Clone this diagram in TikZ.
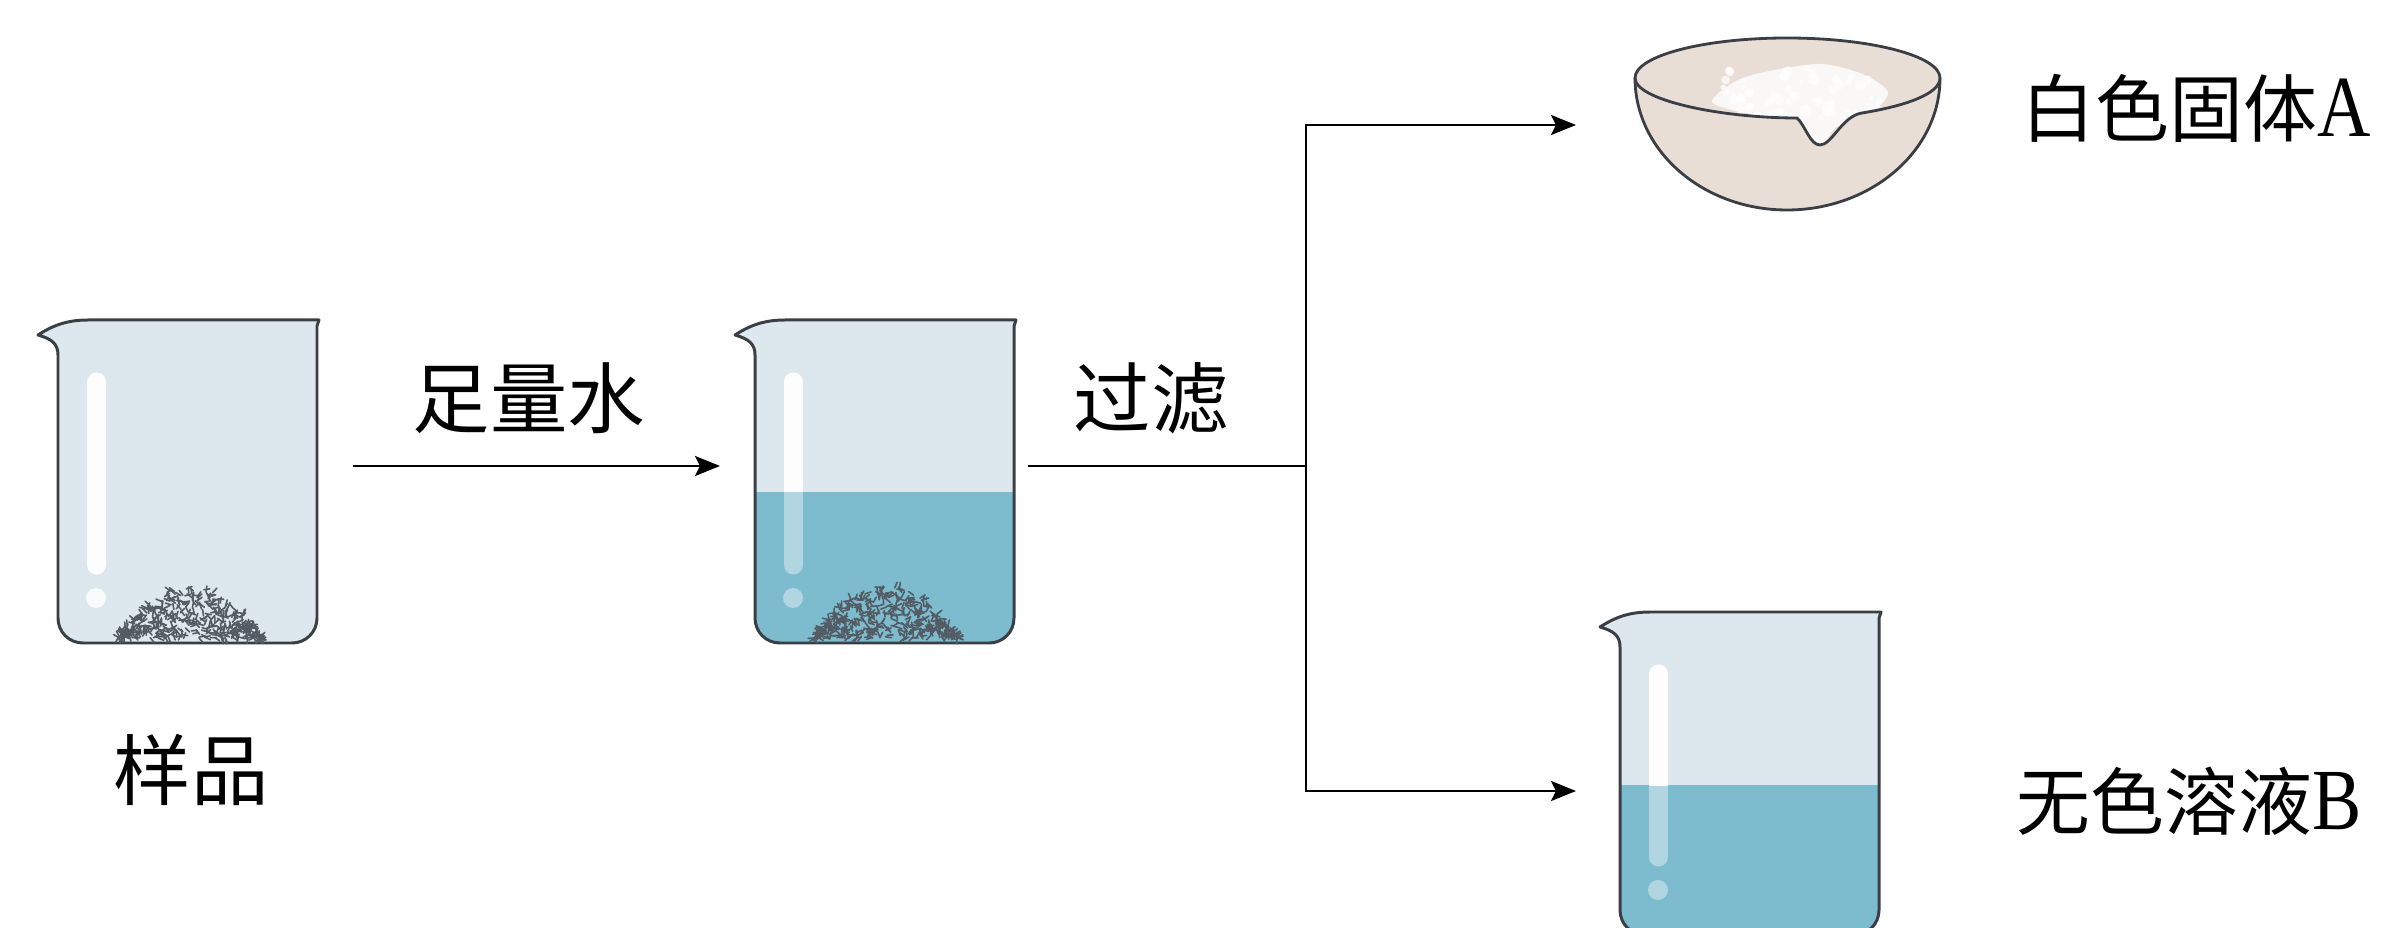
\documentclass[tikz,border=0pt]{standalone}
\usepackage{graphicx}
\usepackage{fontspec}
\setmainfont{Liberation Serif}
\newfontfamily\cjk{Noto Sans CJK SC}
\usetikzlibrary{arrows.meta}

\definecolor{edge}{HTML}{3A3F45}
\definecolor{glassfill}{HTML}{DCE8EE}
\definecolor{water}{HTML}{7DBCCE}
\definecolor{porcelain}{HTML}{E9DED6}
\definecolor{granule}{HTML}{535C64}

\tikzset{
  % beaker, origin at the top of the left wall, #1 = liquid level
  pics/beaker/.style={code={
    \fill[glassfill] (-20,15) .. controls (-6,6) and (8,0) .. (30,0) -- (261,0) -- (259,6) -- (259,298) .. controls (259,312) and (248,323) .. (234,323) -- (25,323) .. controls (11,323) and (0,312) .. (0,298) -- (0,35) .. controls (0,24) and (-6,19) .. (-20,15) -- cycle;
    \begin{scope}
      \clip (-20,15) .. controls (-6,6) and (8,0) .. (30,0) -- (261,0) -- (259,6) -- (259,298) .. controls (259,312) and (248,323) .. (234,323) -- (25,323) .. controls (11,323) and (0,312) .. (0,298) -- (0,35) .. controls (0,24) and (-6,19) .. (-20,15) -- cycle;
      \fill[water] (-30,#1) rectangle (280,340);
      \begin{scope}
        \clip (-30,-10) rectangle (280,#1);
        \draw[shine,opacity=.95] (38.5,62) -- (38.5,245);
        \fill[white,opacity=.8] (38,278) circle (10);
      \end{scope}
      \begin{scope}
        \clip (-30,#1) rectangle (280,340);
        \draw[shine,opacity=.4] (38.5,62) -- (38.5,245);
        \fill[white,opacity=.4] (38,278) circle (10);
      \end{scope}
    \end{scope}
    \draw[glass] (-20,15) .. controls (-6,6) and (8,0) .. (30,0) -- (261,0) -- (259,6) -- (259,298) .. controls (259,312) and (248,323) .. (234,323) -- (25,323) .. controls (11,323) and (0,312) .. (0,298) -- (0,35) .. controls (0,24) and (-6,19) .. (-20,15) -- cycle;
  }},
  % heap of powder on the bottom, #1 = seed
  pics/grains/.style={code={
    \pgfmathsetseed{#1}
    \foreach \k in {1,...,480}{
      \pgfmathsetmacro\u{rand}
      \pgfmathsetmacro\v{rnd}
      \pgfmathsetmacro\gx{72*\u}
      \pgfmathsetmacro\gy{-3-52*\v*(1-\u*\u)}
      \pgfmathsetmacro\ang{rnd*360}
      \draw[granule,line width=0.45pt,line cap=round] (\gx,\gy) -- ++(\ang:6);
    }
  }}
}

\begin{document}
\begin{tikzpicture}[x=0.01cm,y=-0.01cm,
  glass/.style={draw=edge,line width=0.85pt,line join=round},
  shine/.style={white,line width=0.19cm,line cap=round},
  flow/.style={-{Stealth[length=0.25cm,width=0.2cm,inset=0.05cm]},line width=0.75pt},
  pipe/.style={line width=0.75pt},
  lbl/.style={font={\fontsize{22}{26}\selectfont\cjk},inner sep=0pt},
  prod/.style={font={\fontsize{21}{25}\selectfont\cjk},inner sep=0pt,anchor=west}]
\useasboundingbox (0,0) rectangle (2388,928);

% the three beakers
\pic at (58,320) {beaker=400};
\pic at (190,641) {grains=11};
\pic at (755,320) {beaker=172};
\pic at (886,641) {grains=23};
\pic at (1620,612) {beaker=173};

% evaporating dish with the white solid
\fill[porcelain,draw=edge,line width=0.8pt] (1635,78) .. controls (1635,56) and (1703,38) .. (1787,38) .. controls (1871,38) and (1940,56) .. (1940,78) .. controls (1940,151) and (1871,210) .. (1787,210) .. controls (1703,210) and (1635,151) .. cycle;
\begin{scope}
  \clip (1635,78) .. controls (1635,56) and (1703,38) .. (1787,38) .. controls (1871,38) and (1940,56) .. (1940,78) .. controls (1940,94) and (1905,106) .. (1862,113) .. controls (1842,116) and (1832,145) .. (1820,145) .. controls (1810,145) and (1805,125) .. (1797,118) .. controls (1720,118) and (1635,100) .. cycle;
  \fill[white,opacity=.8] plot[smooth cycle] coordinates {(1712,102) (1738,80) (1775,70) (1822,64) (1862,74) (1888,92) (1872,112) (1835,128) (1818,152) (1798,122) (1750,114)};
  \pgfmathsetseed{5}
  \foreach \k in {1,...,60}{
    \fill[white,opacity=.7] (1720+rnd*160,68+rnd*50) circle (2+rnd*4);
  }
\end{scope}
\draw[edge,line width=0.8pt] (1635,78) .. controls (1635,100) and (1720,118) .. (1797,118) .. controls (1805,125) and (1810,145) .. (1820,145) .. controls (1832,145) and (1842,116) .. (1862,113) .. controls (1905,106) and (1940,94) .. (1940,78);

% labels
\node[lbl] (sample) at (191,770) {样品};
\node[lbl] (addwater) at (529,398) {足量水};
\node[lbl] (filter) at (1151,398) {过滤};
\node[prod] (solidA) at (2021,108) {白色固体{\rmfamily\scalebox{1}[1.18]{A}}};
\node[prod] (liquidB) at (2016,801) {无色溶液{\rmfamily\scalebox{1}[1.18]{B}}};

% connectors
\coordinate (feedstart) at (353,466);
\coordinate (feedend) at (720,466);
\coordinate (filtstart) at (1028,466);
\coordinate (fork) at (1306,466);
\coordinate (toA) at (1576,125);
\coordinate (toB) at (1576,791);
\draw[flow] (feedstart) -- (feedend);
\draw[pipe] (filtstart) -- (fork);
\draw[flow] (fork) |- (toA);
\draw[flow] (fork) |- (toB);
\end{tikzpicture}
\end{document}
